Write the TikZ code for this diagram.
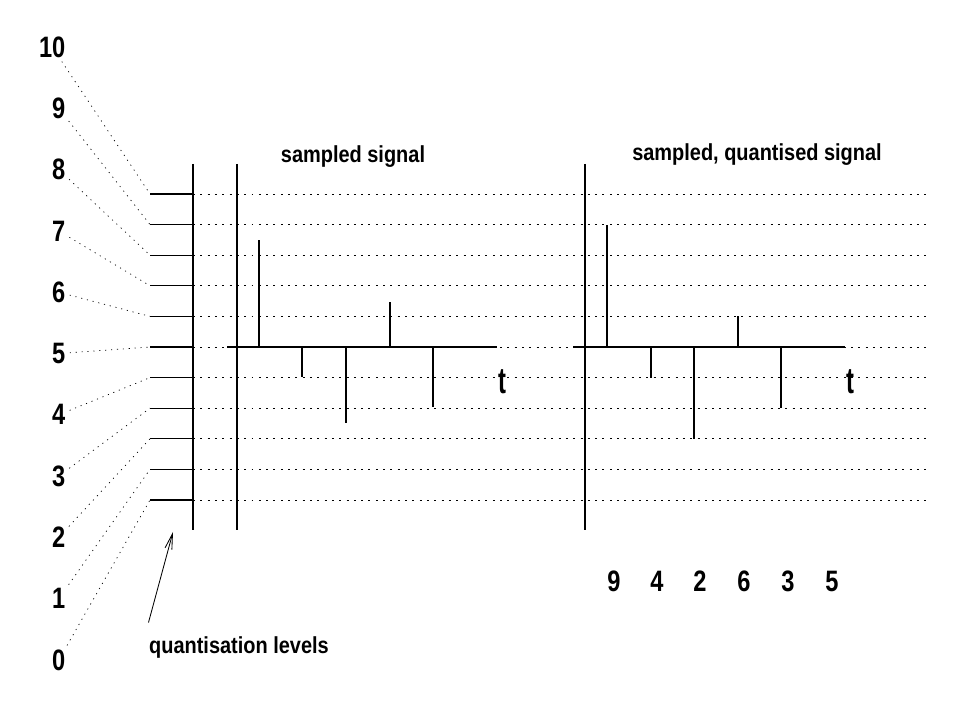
\documentclass[tikz,border=0pt]{standalone}
\usepackage{fontspec}
\newfontfamily\lblfont{Liberation Sans}[FakeStretch=0.86]
\newfontfamily\numfont{Liberation Sans}[FakeStretch=0.8]
\newfontfamily\tfont{Liberation Sans}[FakeStretch=0.65]
\usetikzlibrary{arrows, arrows.meta, calc}
\tikzset{
    levelgrid/.style={
        line width=0.5pt,
        dash pattern=on 1.4pt off 3.8pt
    },
    levelconn/.style={
        line width=0.5pt,
        dash pattern=on 0.8pt off 3.4pt,
        shorten <=2pt
    },
    stemline/.style={
        line width=0.8pt
    },
    lbl/.style={
        font=\lblfont\bfseries\fontsize{16.5}{19}\selectfont,
        inner sep=1pt
    },
    levelnum/.style={
        font=\numfont\bfseries\fontsize{21}{24}\selectfont,
        anchor=east,
        inner sep=1pt
    },
    codenum/.style={
        font=\numfont\bfseries\fontsize{21}{24}\selectfont,
        inner sep=1pt
    },
    tlabel/.style={
        font=\tfont\bfseries\fontsize{26}{28}\selectfont,
        inner sep=0pt
    }
}

\begin{document}
\begin{tikzpicture}[x=0.025cm, y=-0.025cm]

\useasboundingbox (0,0) rectangle (960,720);

% quantisation levels 0..10
\foreach \k in {0,...,10} {
    \coordinate (tk\k) at (150, 500-30.6*\k);
    \coordinate (qz\k) at (193, 500-30.6*\k);
    \coordinate (ge\k) at (930, 500-30.6*\k);
    \node[levelnum] (lv\k) at (67, 660-61.3*\k) {\k};
    \draw[levelconn] (lv\k) -- (tk\k);
    \draw[levelgrid] (qz\k) -- (ge\k);
    \draw[stemline] (tk\k) -- (qz\k);
}

\draw[stemline] (193,164) -- (193,530);

% sampled signal
\draw[stemline] (237,164) -- (237,530);
\draw[stemline] (227,347) -- (497,347);
\draw[stemline] (259,347) -- (259,240);
\draw[stemline] (302,347) -- (302,377);
\draw[stemline] (346,347) -- (346,423);
\draw[stemline] (390,347) -- (390,302);
\draw[stemline] (433,347) -- (433,407);

\node[lbl] (ttla) at (353,157) {sampled signal};
\node[tlabel] (ta) at (502,382) {t};

% sampled, quantised signal
\draw[stemline] (585,164) -- (585,530);
\draw[stemline] (573,347) -- (845,347);
\draw[stemline] (607,347) -- (607,224.6);
\draw[stemline] (651,347) -- (651,377.6);
\draw[stemline] (694,347) -- (694,438.8);
\draw[stemline] (738,347) -- (738,316.4);
\draw[stemline] (781,347) -- (781,408.2);

\node[lbl] (ttlb) at (757,155) {sampled, quantised signal};
\node[tlabel] (tb) at (850,382) {t};

\node[codenum] (c1) at (614,581) {9};
\node[codenum] (c2) at (657,581) {4};
\node[codenum] (c3) at (700,581) {2};
\node[codenum] (c4) at (744,581) {6};
\node[codenum] (c5) at (788,581) {3};
\node[codenum] (c6) at (832,581) {5};

\node[lbl] (ql) at (239,648) {quantisation levels};
\coordinate (qtip) at (173,532);
\draw[-{Straight Barb[length=11pt, width=5pt]}, line width=0.6pt]
    ($(ql.north west)+(1,-13)$) -- (qtip);

\end{tikzpicture}
\end{document}
